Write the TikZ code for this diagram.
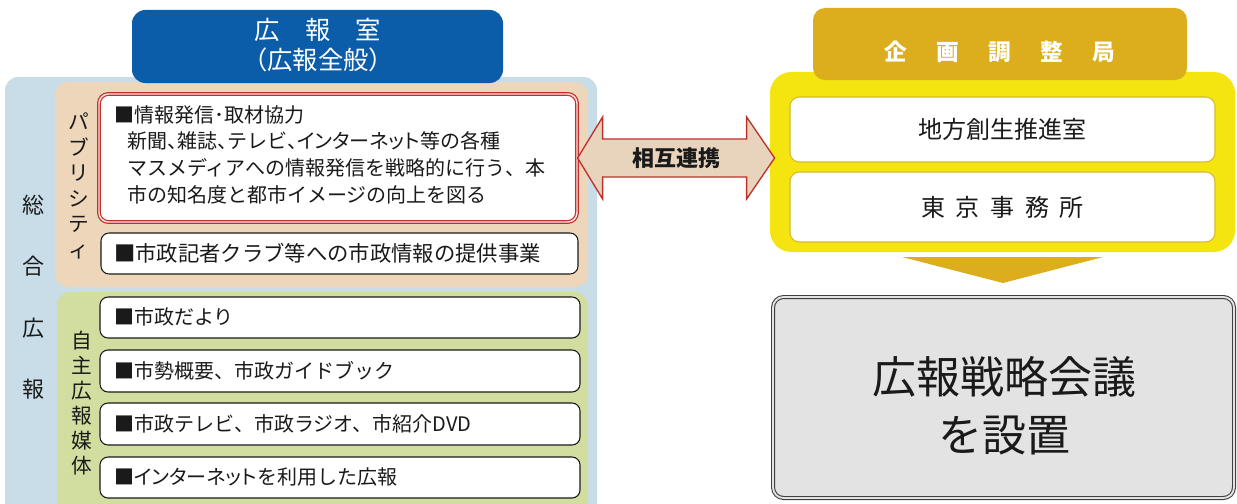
\documentclass[tikz,border=0pt]{standalone}
\usepackage{fontspec}
\setmainfont{Noto Sans CJK JP}
\newfontfamily\paltfont[RawFeature=+palt]{Noto Sans CJK JP}
\usetikzlibrary{fit,calc}
\definecolor{lblue}{HTML}{C8DDE8}
\definecolor{tanc}{HTML}{EDD6B9}
\definecolor{greenc}{HTML}{D2DEA0}
\definecolor{hblue}{HTML}{0B5DA9}
\definecolor{gold}{HTML}{DCAE1E}
\definecolor{yel}{HTML}{F4E410}
\definecolor{ybord}{HTML}{D8BA2A}
\definecolor{grayf}{HTML}{E3E3E3}
\definecolor{redc}{HTML}{C0302A}
\definecolor{arrf}{HTML}{E8D4BC}
\definecolor{ink}{HTML}{1A1A1A}
\begin{document}
\begin{tikzpicture}[x=0.75pt,y=-0.75pt,
  panel/.style={fill=#1, rounded corners=10pt, inner sep=0pt},
  wbox/.style={fill=white, draw=ink, line width=0.8pt, rounded corners=6pt, inner sep=0pt},
  ybox/.style={fill=white, draw=ybord, line width=0.8pt, rounded corners=7pt, inner sep=0pt},
  itemtxt/.style={anchor=west, text=ink, font=\fontsize{15}{20.25}\selectfont, inner sep=0pt},
  vtxt/.style={align=center, text=ink, inner sep=0pt},
]
\useasboundingbox (0,0) rectangle (1237,503);

% ---- left side panels ----
\node[panel=lblue, fit={(5,77)(597,515)}] (gen) {};
\node[panel=tanc, fit={(55,82)(588,287)}] (pub) {};
\node[panel=greenc, fit={(57,292)(588,515)}] (self) {};
\node[panel=hblue, fit={(132,10)(503,83)}] (hdr) {};
\node[text=white, align=center, font=\fontsize{19}{22.5}\selectfont, inner sep=0pt] (hdrt) at (318,45)
  {広\hspace{19pt}報\hspace{19pt}室\\（広報全般）};

% vertical labels
\node[vtxt, font=\fontsize{16.5}{46}\selectfont] (sogo) at (33,297) {総\\合\\広\\報};
\node[vtxt, font=\fontsize{15.5}{19.2}\selectfont] (publ) at (79,186) {パ\\ブ\\リ\\シ\\テ\\ィ};
\node[vtxt, font=\fontsize{15.5}{18.75}\selectfont] (jishu) at (82,403) {自\\主\\広\\報\\媒\\体};

% red double box
\node[fill=white, draw=redc, double=red!12, double distance=1.1pt, line width=0.9pt,
      rounded corners=7pt, inner sep=0pt, fit={(99,94)(577,222)}] (pr1) {};
\node[itemtxt] (pr1h) at (114,115) {■情報発信･取材協力};
\node[anchor=north west, align=left, text=ink, inner sep=0pt,
      font=\fontsize{15}{20.25}\selectfont] (pr1b) at (127,131)
  {新聞{\paltfont 、}雑誌{\paltfont 、}テレビ{\paltfont 、インターネット}等の各種\\
   マスメディアへの情報発信を戦略的に行う、本\\
   市の知名度と都市イメージの向上を図る};

\node[wbox, fit={(101,233)(578,274)}] (pr2) {};
\node[itemtxt, font=\fontsize{16}{20}\selectfont] (pr2t) at (114,253) {■市政記者クラブ等への市政情報の提供事業};

\node[wbox, fit={(100,297)(580,338)}] (m1) {};
\node[itemtxt] (m1t) at (114,317) {■市政だより};
\node[wbox, fit={(100,350)(580,392)}] (m2) {};
\node[itemtxt] (m2t) at (114,371) {■市勢概要、市政ガイドブック};
\node[wbox, fit={(100,403)(580,445)}] (m3) {};
\node[itemtxt] (m3t) at (114,424) {■市政テレビ、市政ラジオ、市紹介DVD};
\node[wbox, fit={(100,457)(580,498)}] (m4) {};
\node[itemtxt] (m4t) at (114,477) {■{\paltfont インターネット}を利用した広報};

% ---- right side ----
\node[panel=yel, rounded corners=16pt, fit={(770,72)(1235,252)}] (ypanel) {};
\node[panel=gold, rounded corners=9pt, fit={(813,8)(1187,80)}] (ghdr) {};
\node[text=white, font=\fontsize{17}{20}\selectfont\bfseries, inner sep=0pt] (ghdrt) at (1000,52)
  {企\hspace{22pt}画\hspace{22pt}調\hspace{22pt}整\hspace{22pt}局};
\node[ybox, fit={(790,97)(1215,162)}] (y1) {};
\node[text=ink, font=\fontsize{18}{22}\selectfont, inner sep=0pt] (y1t) at (y1.center) {地方創生推進室};
\node[ybox, fit={(790,172)(1215,242)}] (y2) {};
\node[text=ink, font=\fontsize{18}{22}\selectfont, inner sep=0pt] (y2t) at (y2.center)
  {東\hspace{8pt}京\hspace{8pt}事\hspace{8pt}務\hspace{8pt}所};

% down triangle
\fill[gold] (902,257) -- (1103,257) -- (1003,283) -- cycle;

% gray box
\node[fill=grayf, draw=black!75, double=grayf, double distance=1.4pt, line width=0.8pt,
      rounded corners=8pt, inner sep=0pt, fit={(773,297)(1234,498)}] (conf) {};
\node[text=ink, align=center, font=\fontsize{33}{43.5}\selectfont, inner sep=0pt] (conft) at (1004,406)
  {広報戦略会議\\を設置};

% double arrow
\draw[fill=arrf, draw=redc, line width=1pt, line join=miter]
  (pr1.east) -- ++(25,-41) -- ++(0,22) -- ++(144,0) -- ++(0,-22) -- ++(28,41)
  -- ++(-28,41) -- ++(0,-22) -- ++(-144,0) -- ++(0,22) -- cycle;
\node[text=ink, font=\fontsize{16.5}{20}\selectfont\bfseries, inner sep=0pt] (link) at (676,158) {相互連携};
\end{tikzpicture}
\end{document}
